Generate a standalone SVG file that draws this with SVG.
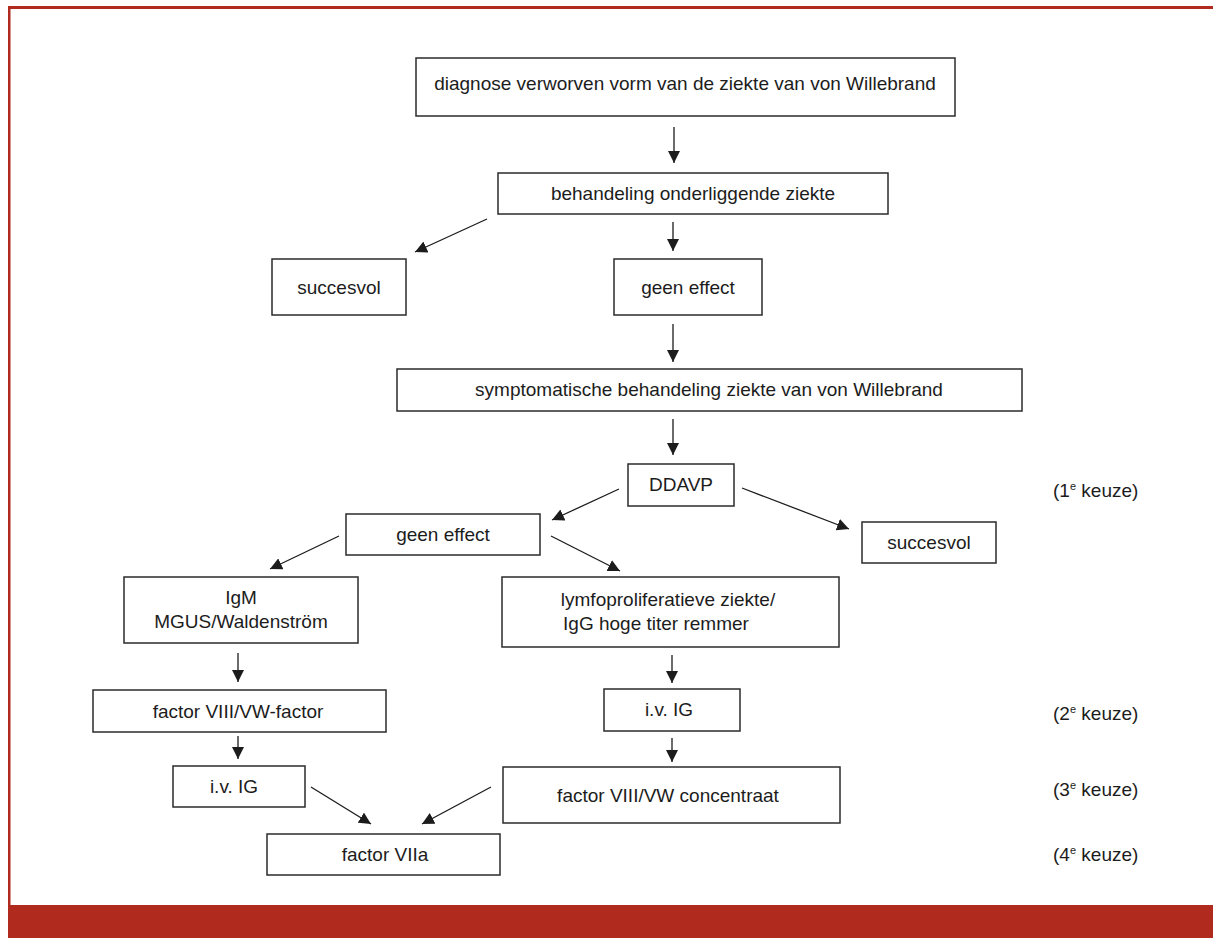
<svg xmlns="http://www.w3.org/2000/svg" width="1213" height="938" viewBox="0 0 1213 938">
<style>
.box{fill:#fff;stroke:#2b2b2b;stroke-width:1.5}
.t{font-family:"Liberation Sans",Arial,sans-serif;font-size:19px;fill:#1c1c1c;text-anchor:middle}
.k{font-family:"Liberation Sans",Arial,sans-serif;font-size:19px;fill:#1c1c1c}
.sup{font-size:11px}
.c{stroke:#1c1c1c;stroke-width:1.3;fill:none;marker-end:url(#ah)}
</style>
<defs>
<marker id="ah" markerUnits="userSpaceOnUse" markerWidth="13" markerHeight="12" refX="12" refY="6" orient="auto">
<path d="M0,0 L12,6 L0,12 z" fill="#1c1c1c"/>
</marker>
</defs>
<rect x="0" y="0" width="1213" height="938" fill="#fff"/>
<g id="frame">
<rect x="8" y="6" width="1205" height="3" fill="#b02a1e"/>
<rect x="8" y="6" width="2.5" height="900" fill="#b02a1e"/>
<rect x="8" y="905" width="1205" height="33" fill="#b02a1e"/>
</g>
<g id="connectors">
<line class="c" x1="674" y1="127" x2="674" y2="163"/>
<line class="c" x1="487" y1="219" x2="415" y2="252"/>
<line class="c" x1="673" y1="222" x2="673" y2="251"/>
<line class="c" x1="673" y1="324" x2="673" y2="362"/>
<line class="c" x1="673" y1="419" x2="673" y2="455"/>
<line class="c" x1="619" y1="489" x2="552" y2="520"/>
<line class="c" x1="742" y1="488" x2="849" y2="529"/>
<line class="c" x1="339" y1="536" x2="270" y2="569"/>
<line class="c" x1="551" y1="536" x2="620" y2="571"/>
<line class="c" x1="238" y1="653" x2="238" y2="682"/>
<line class="c" x1="672" y1="655" x2="672" y2="683"/>
<line class="c" x1="238" y1="736" x2="238" y2="759"/>
<line class="c" x1="672" y1="738" x2="672" y2="762"/>
<line class="c" x1="311" y1="787" x2="371" y2="824"/>
<line class="c" x1="491" y1="787" x2="422" y2="824"/>
</g>
<g id="n-diagnose"><rect class="box" x="416" y="58" width="539" height="58"/><text class="t" x="685" y="90">diagnose verworven vorm van de ziekte van von Willebrand</text></g>
<g id="n-behandeling"><rect class="box" x="498" y="173" width="390" height="41"/><text class="t" x="693" y="200">behandeling onderliggende ziekte</text></g>
<g id="n-succesvol1"><rect class="box" x="272" y="259" width="134" height="56"/><text class="t" x="339" y="294">succesvol</text></g>
<g id="n-geeneffect1"><rect class="box" x="614" y="259" width="148" height="56"/><text class="t" x="688" y="294">geen effect</text></g>
<g id="n-symptomatisch"><rect class="box" x="397" y="369" width="625" height="42"/><text class="t" x="709" y="396">symptomatische behandeling ziekte van von Willebrand</text></g>
<g id="n-ddavp"><rect class="box" x="628" y="464" width="106" height="42"/><text class="t" x="681" y="491">DDAVP</text></g>
<g id="n-geeneffect2"><rect class="box" x="346" y="514" width="194" height="41"/><text class="t" x="443" y="541">geen effect</text></g>
<g id="n-succesvol2"><rect class="box" x="862" y="522" width="134" height="41"/><text class="t" x="929" y="549">succesvol</text></g>
<g id="n-igm"><rect class="box" x="124" y="577" width="234" height="66"/><text class="t" x="241" y="604">IgM</text><text class="t" x="241" y="628">MGUS/Waldenström</text></g>
<g id="n-lymfo"><rect class="box" x="502" y="577" width="337" height="70"/><text class="t" x="668" y="606">lymfoproliferatieve ziekte/</text><text class="t" x="656" y="630">IgG hoge titer remmer</text></g>
<g id="n-factorviii"><rect class="box" x="93" y="690" width="293" height="42"/><text class="t" x="238" y="718">factor VIII/VW-factor</text></g>
<g id="n-ivig-r"><rect class="box" x="604" y="689" width="136" height="42"/><text class="t" x="669" y="716">i.v. IG</text></g>
<g id="n-ivig-l"><rect class="box" x="173" y="766" width="132" height="41"/><text class="t" x="234" y="793">i.v. IG</text></g>
<g id="n-concentraat"><rect class="box" x="503" y="767" width="337" height="56"/><text class="t" x="668" y="802">factor VIII/VW concentraat</text></g>
<g id="n-factorviia"><rect class="box" x="267" y="834" width="233" height="41"/><text class="t" x="385" y="861">factor VIIa</text></g>
<g id="labels">
<text class="k" x="1053" y="497">(1<tspan class="sup" dy="-7">e</tspan><tspan dy="7"> keuze)</tspan></text>
<text class="k" x="1053" y="720">(2<tspan class="sup" dy="-7">e</tspan><tspan dy="7"> keuze)</tspan></text>
<text class="k" x="1053" y="796">(3<tspan class="sup" dy="-7">e</tspan><tspan dy="7"> keuze)</tspan></text>
<text class="k" x="1053" y="861">(4<tspan class="sup" dy="-7">e</tspan><tspan dy="7"> keuze)</tspan></text>
</g>
</svg>
